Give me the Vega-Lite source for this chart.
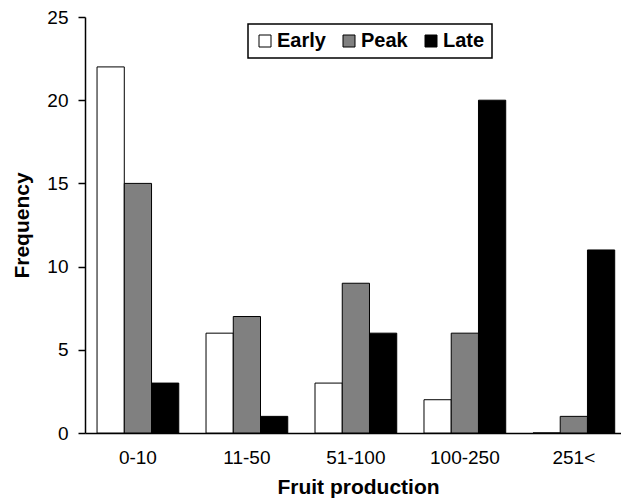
{
  "$schema": "https://vega.github.io/schema/vega-lite/v6.json",
  "width": 546,
  "height": 416,
  "autosize": {"type": "none"},
  "padding": {"left": 85, "top": 17, "right": 0, "bottom": 71},
  "background": "white",
  "data": {
    "values": [
      {"range": "0-10", "stage": "Early", "freq": 22},
      {"range": "0-10", "stage": "Peak", "freq": 15},
      {"range": "0-10", "stage": "Late", "freq": 3},
      {"range": "11-50", "stage": "Early", "freq": 6},
      {"range": "11-50", "stage": "Peak", "freq": 7},
      {"range": "11-50", "stage": "Late", "freq": 1},
      {"range": "51-100", "stage": "Early", "freq": 3},
      {"range": "51-100", "stage": "Peak", "freq": 9},
      {"range": "51-100", "stage": "Late", "freq": 6},
      {"range": "100-250", "stage": "Early", "freq": 2},
      {"range": "100-250", "stage": "Peak", "freq": 6},
      {"range": "100-250", "stage": "Late", "freq": 20},
      {"range": "251<", "stage": "Early", "freq": 0},
      {"range": "251<", "stage": "Peak", "freq": 1},
      {"range": "251<", "stage": "Late", "freq": 11}
    ]
  },
  "mark": {"type": "bar", "stroke": "black", "strokeWidth": 1},
  "encoding": {
    "x": {
      "field": "range",
      "type": "nominal",
      "sort": ["0-10", "11-50", "51-100", "100-250", "251<"],
      "scale": {"paddingInner": 0.25, "paddingOuter": 0.13, "align": 0.425},
      "axis": {
        "title": "Fruit production",
        "labelAngle": 0,
        "ticks": false,
        "labelPadding": 15,
        "labelFont": "Liberation Sans",
        "labelFontSize": 19,
        "labelColor": "black",
        "titleFont": "Liberation Sans",
        "titleFontSize": 21,
        "titleFontWeight": "bold",
        "titleColor": "black",
        "titlePadding": 9,
        "domainColor": "black",
        "domainWidth": 1.5,
        "grid": false
      }
    },
    "xOffset": {
      "field": "stage",
      "type": "nominal",
      "sort": ["Early", "Peak", "Late"],
      "scale": {"paddingInner": 0, "paddingOuter": 0}
    },
    "y": {
      "field": "freq",
      "type": "quantitative",
      "scale": {"domain": [0, 25], "nice": false},
      "axis": {
        "title": "Frequency",
        "values": [0, 5, 10, 15, 20, 25],
        "grid": false,
        "tickSize": 7,
        "tickColor": "black",
        "tickWidth": 1.5,
        "domainColor": "black",
        "domainWidth": 1.5,
        "labelFont": "Liberation Sans",
        "labelFontSize": 19,
        "labelColor": "black",
        "labelPadding": 10,
        "titleFont": "Liberation Sans",
        "titleFontSize": 21,
        "titleFontWeight": "bold",
        "titleColor": "black",
        "titlePadding": 14
      }
    },
    "fill": {
      "field": "stage",
      "type": "nominal",
      "sort": ["Early", "Peak", "Late"],
      "scale": {"domain": ["Early", "Peak", "Late"], "range": ["white", "#808080", "black"]},
      "legend": {
        "title": null,
        "orient": "none",
        "legendX": 163,
        "legendY": 7,
        "direction": "horizontal",
        "symbolType": "square",
        "symbolSize": 144,
        "symbolStrokeColor": "black",
        "symbolStrokeWidth": 1,
        "labelFont": "Liberation Sans",
        "labelFontSize": 20,
        "labelFontWeight": "bold",
        "labelColor": "black",
        "labelOffset": 2,
        "columnPadding": 13,
        "strokeColor": "black",
        "padding": 7,
        "fillColor": "white",
        "encode": {"legend": {"update": {"strokeWidth": {"value": 1.5}}}}
      }
    }
  },
  "config": {"view": {"stroke": null}}
}
